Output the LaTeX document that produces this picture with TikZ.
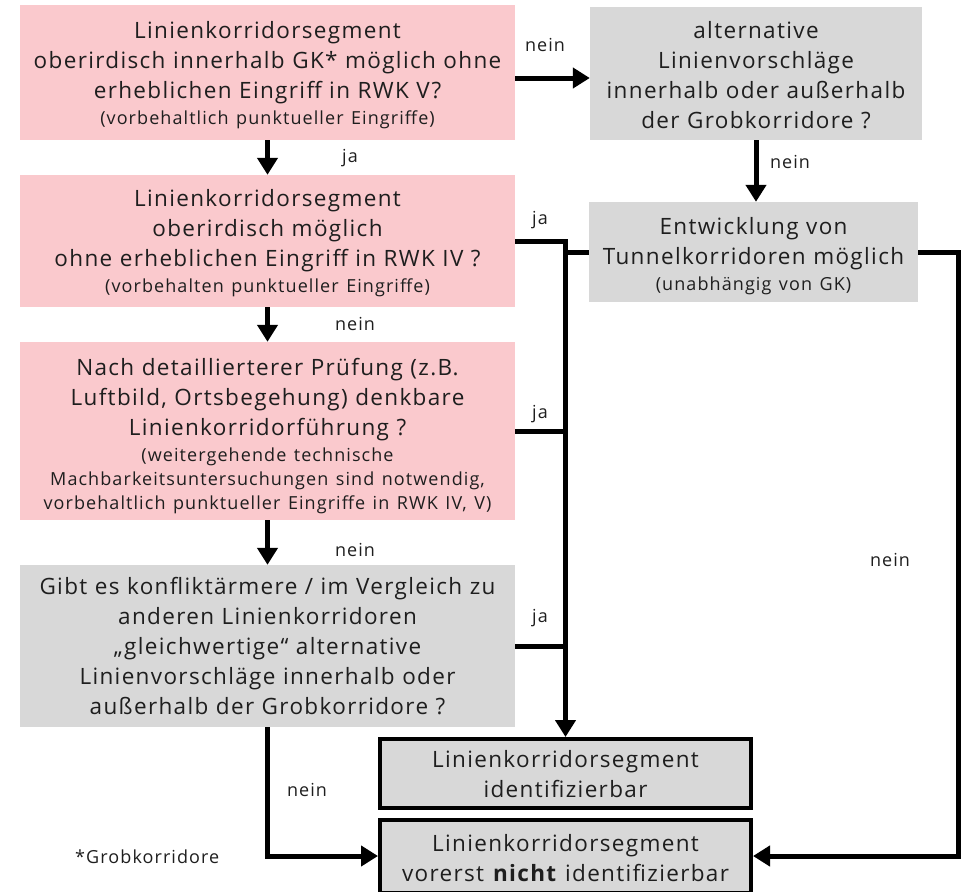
\documentclass[tikz,border=0pt]{standalone}
\usepackage{fontspec}
\setmainfont[LetterSpace=6]{Open Sans}
\usetikzlibrary{arrows.meta}
\definecolor{pinkf}{RGB}{250,201,205}
\definecolor{grayf}{RGB}{216,216,216}
\definecolor{txt}{RGB}{30,30,30}
\newcommand{\mfont}{\fontsize{22.5}{30}\selectfont}
\newcommand{\sfnt}{\fontsize{18}{24}\selectfont}
\newcommand{\smalllines}[1]{\\[-4pt]{\sfnt\begin{tabular}[t]{@{}c@{}}#1\end{tabular}}}
\tikzset{
  box/.style={rectangle, inner sep=0pt},
  pinkbox/.style={box, fill=pinkf},
  graybox/.style={box, fill=grayf},
  endbox/.style={box, fill=grayf, draw=black, line width=4pt},
  boxtext/.style={inner sep=0pt, align=center, text=txt, font=\mfont},
  conn/.style={line width=5pt, draw=black},
  arr/.style={conn, -{Triangle[width=20pt,length=17pt]}},
  lbl/.style={font=\sfnt, text=txt, inner sep=0pt}
}
\begin{document}
\begin{tikzpicture}[x=1pt,y=-1pt]
\useasboundingbox (0,0) rectangle (968,891);
% boxes
\node[pinkbox, minimum width=495pt, minimum height=135pt] (A) at (267.5,72.5) {};
\node[pinkbox, minimum width=495pt, minimum height=132pt] (B) at (267.5,241) {};
\node[pinkbox, minimum width=495pt, minimum height=178pt] (C) at (267.5,431) {};
\node[graybox, minimum width=495pt, minimum height=162pt] (D) at (267.5,646) {};
\node[graybox, minimum width=332pt, minimum height=133pt] (E) at (756,73.5) {};
\node[graybox, minimum width=329pt, minimum height=100pt] (F) at (753.5,252) {};
\node[endbox, minimum width=371pt, minimum height=69pt] (G) at (565.5,773.5) {};
\node[endbox, minimum width=371pt, minimum height=73pt] (H) at (565.5,856) {};
% texts
\node[boxtext, text width=495pt] (At) at ([yshift=-4pt]A.center)
 {Linienkorridorsegment\\oberirdisch innerhalb GK* möglich ohne\\erheblichen Eingriff in RWK V?\smalllines{(vorbehaltlich punktueller Eingriffe)}};
\node[boxtext, text width=495pt] (Bt) at ([yshift=-4pt]B.center)
 {Linienkorridorsegment\\oberirdisch möglich\\ohne erheblichen Eingriff in RWK IV ?\smalllines{(vorbehalten punktueller Eingriffe)}};
\node[boxtext, text width=495pt] (Ct) at ([yshift=-6pt]C.center)
 {Nach detaillierterer Prüfung (z.B.\\Luftbild, Ortsbegehung) denkbare\\Linienkorridorführung ?\smalllines{(weitergehende technische\\Machbarkeitsuntersuchungen sind notwendig,\\vorbehaltlich punktueller Eingriffe in RWK IV, V)}};
\node[boxtext, text width=495pt] (Dt) at (D.center)
 {Gibt es konfliktärmere / im Vergleich zu\\anderen Linienkorridoren\\„gleichwertige“ alternative\\Linienvorschläge innerhalb oder\\außerhalb der Grobkorridore ?};
\node[boxtext, text width=332pt] (Et) at ([yshift=-2pt]E.center)
 {alternative\\Linienvorschläge\\innerhalb oder außerhalb\\der Grobkorridore ?};
\node[boxtext, text width=329pt] (Ft) at ([yshift=-6pt]F.center)
 {Entwicklung von\\Tunnelkorridoren möglich\smalllines{(unabhängig von GK)}};
\node[boxtext, text width=371pt] (Gt) at ([yshift=-1pt]G.center)
 {Linienkorridorsegment\\identifizierbar};
\node[boxtext, text width=371pt] (Ht) at ([yshift=-2pt]H.center)
 {Linienkorridorsegment\\vorerst \textbf{nicht} identifizierbar};
% connectors
\draw[arr] (A.south) -- (B.north);
\draw[arr] (B.south) -- (C.north);
\draw[arr] (C.south) -- (D.north);
\draw[arr] (A.east |- 0,78) -- (E.west |- 0,78);
\draw[arr] (E.south) -- (E.south |- F.north);
\draw[arr] (B.east) -| (G.north);
\draw[conn] (F.west) -- (F.west -| G.north);
\draw[conn] (C.east) -- (C.east -| G.north);
\draw[conn] (D.east) -- (D.east -| G.north);
\coordinate (r1) at (958,252);
\draw[arr] (F.east) -- (r1) |- (H.east);
\draw[arr] (D.south) |- (H.west);
% labels
\node[lbl] (l1) at (545,45) {nein};
\node[lbl] (l2) at (350,158) {ja};
\node[lbl] (l3) at (790,162) {nein};
\node[lbl] (l4) at (540,220) {ja};
\node[lbl] (l5) at (355,324) {nein};
\node[lbl] (l6) at (540,414) {ja};
\node[lbl] (l7) at (355,550) {nein};
\node[lbl] (l8) at (540,618) {ja};
\node[lbl] (l9) at (890,560) {nein};
\node[lbl] (l10) at (307,790) {nein};
\node[lbl, anchor=west] (fn) at (75,857) {*Grobkorridore};
\end{tikzpicture}
\end{document}
